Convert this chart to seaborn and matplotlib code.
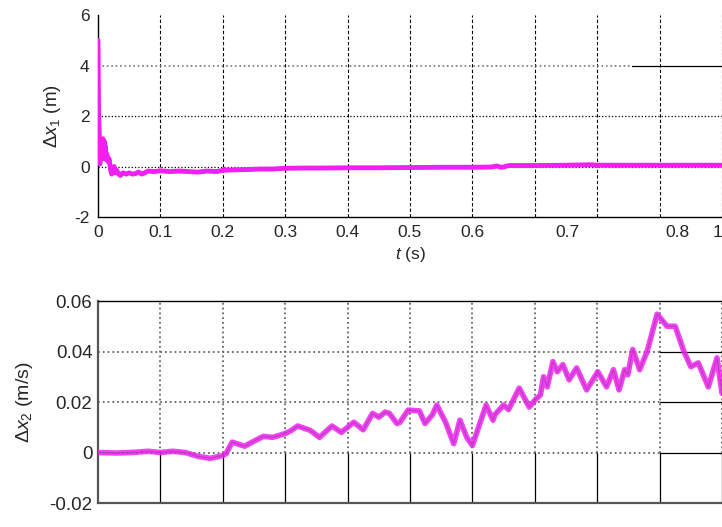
import matplotlib

matplotlib.use("Agg")
import matplotlib.pyplot as plt
import pandas as pd
import seaborn as sns

# ------------------------------------------------------------------
# DATA
# ------------------------------------------------------------------

t_x1 = [0.0, 0.001, 0.002, 0.003, 0.004, 0.005, 0.006, 0.007, 0.008, 0.009,
        0.010, 0.011, 0.012, 0.013, 0.014, 0.016, 0.018, 0.020, 0.022, 0.024,
        0.026, 0.028, 0.030, 0.033, 0.036, 0.040, 0.045, 0.050, 0.055, 0.060,
        0.065, 0.070, 0.075, 0.080, 0.090, 0.100, 0.115, 0.130, 0.145, 0.160,
        0.175, 0.190, 0.200, 0.220, 0.240, 0.260, 0.280, 0.300, 0.330, 0.360,
        0.400, 0.450, 0.500, 0.550, 0.600, 0.630, 0.640, 0.645, 0.650, 0.655,
        0.660, 0.700, 0.750, 0.790, 0.800, 0.850, 0.900, 1.000]
dx1 = [5.0, 2.0, 1.4, 0.1, 0.9, 0.3, 1.0, 0.4, 1.1, 0.5,
       1.0, 0.3, 0.8, 0.3, 0.5, 0.2, 0.3, -0.1, -0.3, -0.1,
       0.0, -0.25, -0.15, -0.3, -0.35, -0.25, -0.3, -0.25, -0.3, -0.28,
       -0.22, -0.3, -0.25, -0.18, -0.2, -0.17, -0.2, -0.18, -0.2, -0.22,
       -0.18, -0.2, -0.15, -0.13, -0.12, -0.1, -0.1, -0.07, -0.06, -0.06,
       -0.05, -0.05, -0.04, -0.03, -0.03, -0.02, 0.02, -0.03, -0.02, 0.02,
       0.04, 0.04, 0.05, 0.07, 0.05, 0.05, 0.05, 0.05]

t_x2 = [0.000, 0.030, 0.060, 0.080, 0.100, 0.120, 0.140, 0.160, 0.180, 0.200,
        0.205, 0.215, 0.235, 0.250, 0.265, 0.280, 0.300, 0.310, 0.320, 0.340,
        0.355, 0.375, 0.390, 0.410, 0.425, 0.440, 0.450, 0.460, 0.467, 0.479,
        0.484, 0.497, 0.515, 0.524, 0.536, 0.543, 0.557, 0.570, 0.580, 0.591,
        0.600, 0.610, 0.622, 0.633, 0.636, 0.650, 0.658, 0.675, 0.691, 0.701,
        0.709, 0.714, 0.720, 0.729, 0.736, 0.745, 0.755, 0.767, 0.783, 0.801,
        0.815, 0.826, 0.835, 0.844, 0.849, 0.857, 0.868, 0.880, 0.896, 0.912,
        0.925, 0.939, 0.950, 0.962, 0.978, 0.992, 1.000]
dx2 = [0.0, -0.0002, 0.0001, 0.0005, 0.0, 0.0005, 0.0, -0.0015, -0.0023, -0.0012,
       -0.0005, 0.0041, 0.0025, 0.0045, 0.0064, 0.0060, 0.0075, 0.0088, 0.0105, 0.0088,
       0.0060, 0.0105, 0.0080, 0.0120, 0.0090, 0.0155, 0.0140, 0.0160, 0.0155, 0.0115,
       0.0120, 0.0168, 0.0165, 0.0115, 0.0150, 0.0188, 0.0120, 0.0035, 0.0128, 0.0060,
       0.0028, 0.0101, 0.0188, 0.0128, 0.0150, 0.0188, 0.0170, 0.0255, 0.0180, 0.0210,
       0.0228, 0.0300, 0.0260, 0.0360, 0.0320, 0.0348, 0.0288, 0.0335, 0.0248, 0.0320,
       0.0260, 0.0328, 0.0248, 0.0328, 0.0308, 0.0408, 0.0328, 0.0400, 0.0548, 0.0500,
       0.0500, 0.0400, 0.0340, 0.0355, 0.0260, 0.0375, 0.0235]

top_tick_pos = [0.0, 0.1, 0.2, 0.3, 0.4, 0.5, 0.6, 0.753, 0.928, 1.0]
top_tick_labels = ["0", "0.1", "0.2", "0.3", "0.4", "0.5", "0.6", "0.7", "0.8", "1"]
grid_x = [0.1, 0.2, 0.3, 0.4, 0.5, 0.6, 0.7, 0.8, 0.9, 1.0]
top_yticks = [-2, 0, 2, 4, 6]
top_ytick_labels = ["-2", "0", "2", "4", "6"]
bottom_yticks = [-0.02, 0, 0.02, 0.04, 0.06]
bottom_ytick_labels = ["-0.02", "0", "0.02", "0.04", "0.06"]

# ------------------------------------------------------------------
# STYLE
# ------------------------------------------------------------------

sns.set_style("white")
plt.rcParams["font.family"] = ["Liberation Sans", "DejaVu Sans"]
plt.rcParams["mathtext.fontset"] = "custom"
plt.rcParams["mathtext.rm"] = "Liberation Sans"
plt.rcParams["mathtext.it"] = "Liberation Sans:italic"
plt.rcParams["axes.unicode_minus"] = False
plt.rcParams["font.size"] = 12

MAGENTA = "#f21ff2"

fig = plt.figure(figsize=(7.22, 5.27), dpi=100)
ax1 = fig.add_axes([0.1357, 0.5882, 0.8643, 0.3833])
ax2 = fig.add_axes([0.1357, 0.0455, 0.8643, 0.3833])

# ------------------------------------------------------------------
# TOP: delta x1
# ------------------------------------------------------------------

df1 = pd.DataFrame({"t": t_x1, "dx1": dx1})
sns.lineplot(data=df1, x="t", y="dx1", ax=ax1, color=MAGENTA,
             linewidth=3.5, zorder=3)
ax1.set_xlim(0, 1)
ax1.set_ylim(-2, 6)

for gx in grid_x:
    ax1.axvline(gx, color="black", linestyle=(0, (3, 2)), linewidth=0.8, zorder=1)
ax1.axhline(2, color="black", linestyle=":", linewidth=0.9, zorder=1)
ax1.axhline(0, color="black", linestyle=":", linewidth=0.9, zorder=1)
ax1.plot([0, 0.856], [4, 4], color="#777777", linestyle=":", linewidth=1.2, zorder=1)
ax1.plot([0.856, 1.0], [4, 4], color="black", linewidth=0.9, zorder=1)

ax1.set_xticks(top_tick_pos)
ax1.set_xticklabels(top_tick_labels)
ax1.get_xticklabels()[-1].set_horizontalalignment("right")
ax1.set_yticks(top_yticks)
ax1.set_yticklabels(top_ytick_labels)
ax1.tick_params(length=0, labelsize=12.5, pad=6)
ax1.set_xlabel("$t$ (s)", fontsize=12.5, labelpad=3)
ax1.set_ylabel(r"$\Delta x_1$ (m)", fontsize=13.5, labelpad=8)
ax1.spines["top"].set_visible(False)
ax1.spines["right"].set_visible(False)
for s in ("left", "bottom"):
    ax1.spines[s].set_color("black")
    ax1.spines[s].set_linewidth(1.0)

# ------------------------------------------------------------------
# BOTTOM: delta x2
# ------------------------------------------------------------------

df2 = pd.DataFrame({"t": t_x2, "dx2": dx2})
sns.lineplot(data=df2, x="t", y="dx2", ax=ax2, color=MAGENTA,
             linewidth=4.0, alpha=0.85, zorder=3)
sns.lineplot(data=df2, x="t", y="dx2", ax=ax2, color="#a03aa8",
             linewidth=1.0, alpha=0.6, zorder=4)
ax2.set_xlim(0, 1)
ax2.set_ylim(-0.02, 0.06)

for gx in grid_x:
    ax2.plot([gx, gx], [0, 0.06], color="#666666", linestyle=":",
             linewidth=1.3, zorder=1)
    ax2.plot([gx, gx], [-0.02, 0], color="black", linewidth=0.9, zorder=1)
for gy in (0.0, 0.02, 0.04):
    ax2.plot([0, 0.9], [gy, gy], color="#666666", linestyle=":",
             linewidth=1.3, zorder=1)
    ax2.plot([0.9, 1.0], [gy, gy], color="black", linewidth=0.9, zorder=1)

ax2.set_xticks(grid_x)
ax2.set_xticklabels([])
ax2.set_yticks(bottom_yticks)
ax2.set_yticklabels(bottom_ytick_labels)
ax2.tick_params(length=0, labelsize=13.5, pad=4)
ax2.set_xlabel("")
ax2.set_ylabel(r"$\Delta x_2$ (m/s)", fontsize=14, labelpad=10)
ax2.spines["right"].set_visible(False)
ax2.spines["top"].set_color("black")
ax2.spines["top"].set_linewidth(1.0)
ax2.spines["left"].set_color("#555555")
ax2.spines["left"].set_linewidth(1.6)
ax2.spines["bottom"].set_color("#555555")
ax2.spines["bottom"].set_linewidth(1.6)

fig.savefig("out.png", dpi=100)
plt.close(fig)
